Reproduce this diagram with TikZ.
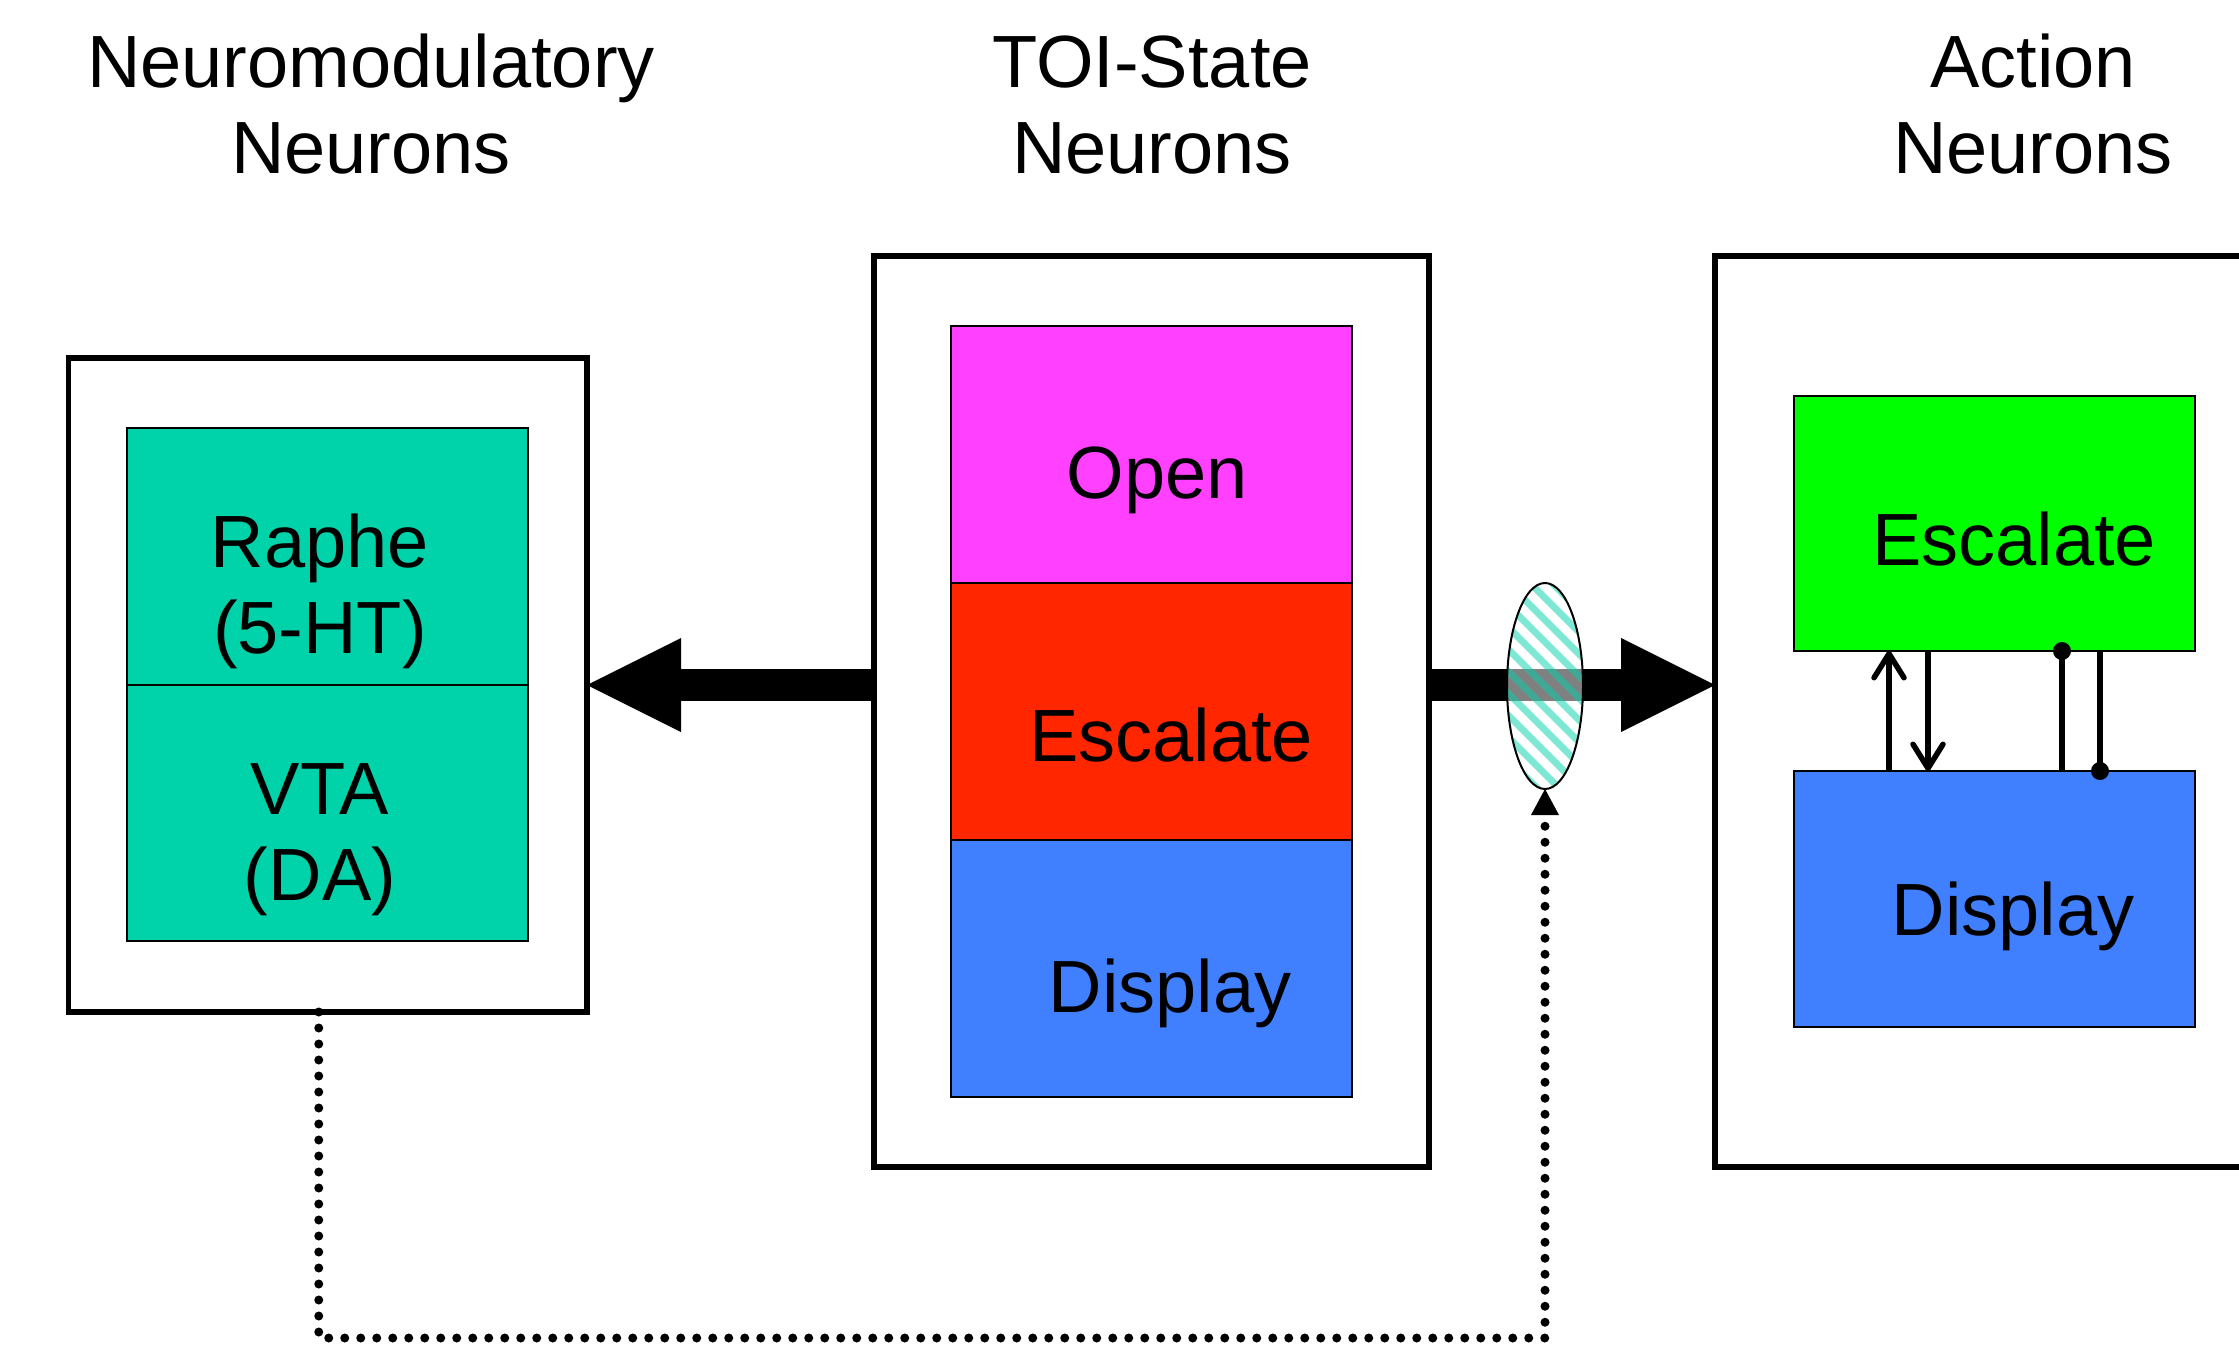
\documentclass[tikz,border=0pt]{standalone}
\usepackage{fontspec}
\setmainfont{Liberation Sans}
\usetikzlibrary{shapes.geometric,arrows.meta}
\definecolor{rapheteal}{HTML}{00D2AA}
\definecolor{openmag}{HTML}{FF40FF}
\definecolor{escred}{HTML}{FF2600}
\definecolor{dispblue}{HTML}{4080FF}
\definecolor{escgreen}{HTML}{00FF00}
\begin{document}
\begin{tikzpicture}[x=1pt,y=-1pt,
  outerbox/.style={draw,line width=5.5pt,inner sep=0pt,outer sep=0pt},
  cellbox/.style={draw,line width=2pt,inner sep=0pt,outer sep=0pt,minimum width=401pt},
  bigtext/.style={font=\fontsize{74}{86}\selectfont,align=center,inner sep=0pt,anchor=base},
  blockshaft/.style={line width=32pt},
  thinlink/.style={line width=5.5pt},
  barb/.style={-{Straight Barb[length=24pt,width=30pt,round]}},
  dotlink/.style={line width=9pt,line cap=round,dash pattern=on 0pt off 16pt}]
\clip (0,0) rectangle (2239,1348);
\fill[white] (0,0) rectangle (2239,1348);

% column titles (anchor is the baseline of the last line)
\node[bigtext] (tmod) at (371,174) {Neuromodulatory\\Neurons};
\node[bigtext] (ttoi) at (1152,174) {TOI-State\\Neurons};
\node[bigtext] (tact) at (2033,174) {Action\\Neurons};

% neuromodulatory column
\node[outerbox,minimum width=518.5pt,minimum height=654pt] (L) at (327.75,685) {};
\node[cellbox,fill=rapheteal,minimum height=257pt] (raphe) at (327.5,556.5) {};
\node[cellbox,fill=rapheteal,minimum height=256pt] (vta) at (327.5,813) {};
\node[bigtext] (rapheT) at (320,653) {Raphe\\(5-HT)};
\node[bigtext] (vtaT) at (320,900) {VTA\\(DA)};

% TOI-state column
\node[outerbox,minimum width=555pt,minimum height=911pt] (M) at (1151.5,711.5) {};
\node[cellbox,fill=openmag,minimum height=257pt] (open) at (1151.5,454.5) {};
\node[cellbox,fill=escred,minimum height=257pt] (esc) at (1151.5,711.5) {};
\node[cellbox,fill=dispblue,minimum height=257pt] (disp) at (1151.5,968.5) {};
\node[bigtext] (openT) at (1157,498) {Open};
\node[bigtext] (escT) at (1171,761) {Escalate};
\node[bigtext] (dispT) at (1170,1012) {Display};

% action column
\node[outerbox,minimum width=555pt,minimum height=911pt] (A) at (1992.5,711.5) {};
\node[cellbox,fill=escgreen,minimum height=255pt] (aesc) at (1994.5,523.5) {};
\node[cellbox,fill=dispblue,minimum height=256pt] (adisp) at (1994.5,899) {};
\node[bigtext] (aescT) at (2014,565) {Escalate};
\node[bigtext] (adispT) at (2013,935) {Display};

% block arrows out of the TOI-state column
\draw[blockshaft] (M.west |- L.east) -- ([xshift=93pt]L.east);
\fill (L.east) -- ++(94,-47) -- ++(0,94) -- cycle;
\draw[blockshaft] (M.east |- L.east) -- ([xshift=-93pt]A.west |- L.east);
\fill (A.west |- L.east) -- ++(-94,-47) -- ++(0,94) -- cycle;

% hatched gate on the right arrow
\coordinate (gc) at (1545,686);
\fill[white,fill opacity=0.5] (gc) ellipse [x radius=38, y radius=103];
\begin{scope}
  \clip (gc) ellipse [x radius=38, y radius=103];
  \foreach \k in {-18,...,18}
    \draw[rapheteal,opacity=0.5,line width=7pt] ([shift={(\k*22-160,-160)}]gc) -- ++(320,320);
\end{scope}
\node[ellipse,draw,line width=2pt,inner sep=0pt,outer sep=0pt,minimum width=76pt,minimum height=206pt] (gate) at (gc) {};

% modulatory feedback onto the gate
\draw[dotlink] ([xshift=-9pt]L.south) -- ++(0,326) -| ([yshift=-26pt]gate.south);
\fill (gate.south) -- ++(-14,26) -- ++(28,0) -- cycle;

% interactions between action neurons
\draw[thinlink,barb] ([xshift=-105.5pt]adisp.north) -- ([xshift=-105.5pt]aesc.south);
\draw[thinlink,barb] ([xshift=-66.5pt]aesc.south) -- ([xshift=-66.5pt]adisp.north);
\draw[thinlink] ([xshift=67.5pt]adisp.north) -- ([xshift=67.5pt]aesc.south);
\fill ([xshift=67.5pt]aesc.south) circle [radius=9pt];
\draw[thinlink] ([xshift=105.5pt]aesc.south) -- ([xshift=105.5pt]adisp.north);
\fill ([xshift=105.5pt]adisp.north) circle [radius=9pt];
\end{tikzpicture}
\end{document}
